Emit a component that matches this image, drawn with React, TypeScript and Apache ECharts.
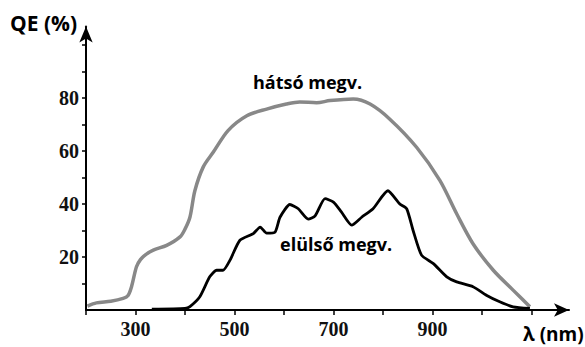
import React, { useEffect, useRef } from "react";
import * as echarts from "echarts";

const backWl = [203, 221, 250, 275, 285, 292, 302, 310, 320, 336, 363, 390, 400, 410, 420, 437, 457, 487, 525, 565, 605, 632, 666, 693, 740, 774, 814, 868, 915, 949, 982, 1023, 1063, 1097];
const backQE = [1.5, 2.7, 3.3, 4.4, 5.5, 8.8, 16.3, 19, 20.8, 22.6, 24.4, 27.6, 30.5, 35, 45, 54, 59.5, 67.7, 73.3, 75.8, 77.7, 78.5, 78.2, 79, 79.6, 77.7, 72, 61.4, 48.9, 36.3, 25, 15, 7.5, 1.2];

const frontWl = [333, 400, 410, 430, 450, 464, 477, 491, 511, 538, 552, 565, 582, 592, 612, 629, 649, 663, 683, 700, 716, 737, 757, 780, 810, 834, 848, 861, 878, 902, 929, 949, 982, 1009, 1036, 1063, 1097];
const frontQE = [0.3, 0.6, 1.3, 5, 12.5, 15, 15, 18.8, 26.3, 28.8, 31.3, 29, 29.4, 35, 39.8, 38.2, 34.3, 35.5, 42, 40.7, 37, 32, 35, 38.2, 45, 40, 38.2, 30, 20.7, 17.5, 12.5, 10.6, 8.8, 5.6, 3.1, 1.2, 0.6];

const xTicks = [200, 300, 400, 500, 600, 700, 800, 900, 1000, 1100];
const xLabels = [300, 500, 700, 900];
const yTicks = [10, 20, 30, 40, 50, 60, 70, 80, 90, 100];
const yLabels = [20, 40, 60, 80];

const backLabel = "hátsó megv.";
const frontLabel = "elülső megv.";
const yName = "QE (%)";
const xName = "λ (nm)";

export default function App() {
  const ref = useRef<HTMLDivElement>(null);
  useEffect(() => {
    if (!ref.current) return;
    const chart = echarts.init(ref.current, null, { renderer: "svg" });
    const numFont = { fontFamily: "Liberation Serif", fontWeight: "bold" as const, fontSize: 20, color: "#111" };
    chart.setOption({
      animation: false,
      backgroundColor: "#fff",
      grid: { left: 86, right: 16, top: 26.4, bottom: 37 },
      xAxis: {
        type: "value",
        min: 200,
        max: 1176,
        splitLine: { show: false },
        axisLine: { lineStyle: { color: "#000", width: 2 }, symbol: ["none", "arrow"], symbolSize: [10, 15] },
        axisTick: { show: true, length: 5, lineStyle: { color: "#000", width: 1.5 }, customValues: xTicks },
        axisLabel: { ...numFont, margin: 9, customValues: xLabels },
      },
      yAxis: {
        type: "value",
        min: 0,
        max: 107,
        splitLine: { show: false },
        axisLine: { show: true, lineStyle: { color: "#000", width: 2 }, symbol: ["none", "arrow"], symbolSize: [10, 16] },
        axisTick: { show: true, length: 4, lineStyle: { color: "#000", width: 1.5 }, customValues: yTicks },
        axisLabel: { ...numFont, margin: 7, customValues: yLabels },
      },
      series: [
        {
          type: "line",
          data: backWl.map((w, i) => [w, backQE[i]]),
          showSymbol: false,
          smooth: 0.3,
          lineStyle: { color: "#888", width: 3.5 },
        },
        {
          type: "line",
          data: frontWl.map((w, i) => [w, frontQE[i]]),
          showSymbol: false,
          smooth: 0.2,
          lineStyle: { color: "#000", width: 2.8 },
        },
      ],
      graphic: [
        { type: "text", left: 253, top: 73, style: { text: backLabel, font: "bold 18px 'Open Sans'", fill: "#000" } },
        { type: "text", left: 280, top: 235, style: { text: frontLabel, font: "bold 18px 'Open Sans'", fill: "#000" } },
        { type: "text", left: 10, top: 12, style: { text: yName, font: "bold 21px 'Open Sans'", fill: "#000" } },
        { type: "text", left: 523, top: 324, style: { text: xName, font: "bold 19px 'Open Sans'", fill: "#000" } },
      ],
    });
    return () => chart.dispose();
  }, []);
  return <div ref={ref} style={{ width: 585, height: 347, position: "absolute", left: 0, top: 0 }} />;
}
